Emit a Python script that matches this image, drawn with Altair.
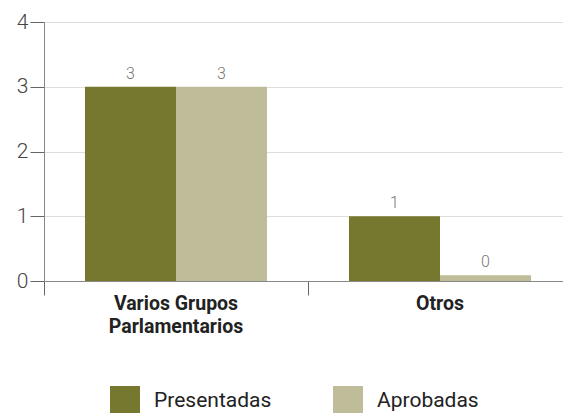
import altair as alt
import pandas as pd

categories = ["Varios Grupos Parlamentarios", "Otros"]
series = ["Presentadas", "Aprobadas"]
presentadas = [3, 1]
aprobadas = [3, 0]
colors = ["#76782F", "#BFBD99"]

rows = []
for i, c in enumerate(categories):
    rows.append({"cat": c, "serie": series[0], "value": presentadas[i]})
    rows.append({"cat": c, "serie": series[1], "value": aprobadas[i]})
df = pd.DataFrame(rows)

FONT = "Roboto"

base = alt.Chart(df).transform_calculate(
    shown="max(datum.value, 0.09)"
)

x = alt.X("cat:N", sort=categories, title=None,
          scale=alt.Scale(paddingInner=0, paddingOuter=0, range=[0, 528]),
          axis=alt.Axis(labelAngle=0, bandPosition=0, tickSize=14, tickColor="#666",
                        domainColor="#888", labelFont=FONT, labelFontSize=19.5,
                        labelFontWeight="bold", labelColor="#222", labelPadding=-1,
                        labelLineHeight=23, labelBaseline="top",
                        labelExpr="datum.label == 'Varios Grupos Parlamentarios' ? ['Varios Grupos', 'Parlamentarios'] : datum.label"))
xo = alt.XOffset("serie:N", sort=series,
                 scale=alt.Scale(paddingInner=0, paddingOuter=0.45))

bars = base.mark_bar().encode(
    x=x, xOffset=xo,
    y=alt.Y("shown:Q", title=None,
            scale=alt.Scale(domain=[0, 4], nice=False),
            axis=alt.Axis(values=[0, 1, 2, 3, 4], format="d", tickSize=14,
                          tickColor="#666", domainColor="#888", gridColor="#dddddd",
                          labelFont=FONT, labelFontSize=21, labelFontWeight=300,
                          labelColor="#444", labelPadding=2)),
    color=alt.Color("serie:N", sort=series,
                    scale=alt.Scale(domain=series, range=colors),
                    legend=alt.Legend(title=None, orient="none", legendX=66, legendY=364,
                                      direction="horizontal", symbolType="square",
                                      symbolSize=900, symbolStrokeWidth=0,
                                      labelFont=FONT, labelFontSize=21, labelColor="#222",
                                      labelOffset=14, columnPadding=61, labelLimit=200)),
)

labels = base.mark_text(dy=-13, font=FONT, fontSize=16, fontWeight=300, color="#777").encode(
    x=x, xOffset=xo,
    y=alt.Y("shown:Q"),
    text=alt.Text("value:Q"),
)

chart = alt.layer(bars, labels).properties(
    width=519, height=259,
    autosize=alt.AutoSizeParams(type="none"),
    padding={"left": 36, "top": 14, "right": 0, "bottom": 140},
).configure_view(stroke=None)

chart.save("out.html", embed_options={"renderer": "svg", "actions": False})
